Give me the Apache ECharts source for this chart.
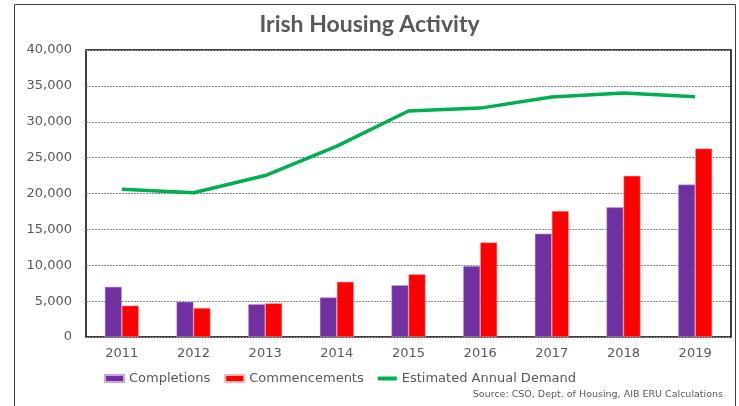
<!DOCTYPE html>
<html>
<head>
<meta charset="utf-8">
<script src="https://cdn.jsdelivr.net/npm/echarts@6/dist/echarts.min.js"></script>
<style>
  html, body { margin: 0; padding: 0; background: #fff; }
  #chart { width: 739px; height: 406px; }
</style>
</head>
<body>
<div id="chart"></div>
<script>
// values
const years = ['2011', '2012', '2013', '2014', '2015', '2016', '2017', '2018', '2019'];
const completions = [6994, 4911, 4575, 5518, 7219, 9886, 14407, 18072, 21241];
const commencements = [4365, 4042, 4708, 7691, 8734, 13186, 17572, 22467, 26267];
const demand = [20600, 20100, 22500, 26600, 31500, 31900, 33450, 34000, 33500];
const yTicks = [0, 5000, 10000, 15000, 20000, 25000, 30000, 35000, 40000];

const font = 'DejaVu Sans';
const grey = '#595959';

const myChart = echarts.init(document.getElementById('chart'));

const options = {
    animation: false,
    backgroundColor: '#fff',
    title: {
        text: 'Irish Housing Activity',
        left: 'center',
        top: 8,
        textStyle: { fontFamily: 'Lato', fontWeight: 'bold', fontSize: 23, color: grey }
    },
    graphic: [
        {
            type: 'rect',
            shape: { x: 14.5, y: 4.5, width: 721, height: 410 },
            style: { fill: 'none', stroke: '#404040', lineWidth: 1 },
            silent: true
        },
        {
            type: 'text',
            right: 16,
            top: 390,
            style: { text: 'Source: CSO, Dept. of Housing, AIB ERU Calculations', fontFamily: font, fontSize: 9.5, fill: grey }
        }
    ],
    grid: { left: 86, right: 8, top: 50, bottom: 69, show: true, borderColor: '#000', borderWidth: 1.5 },
    legend: {
        left: 99,
        top: 367,
        itemWidth: 19,
        itemHeight: 7,
        itemGap: 14,
        textStyle: { fontFamily: font, fontSize: 13, color: grey },
        data: [
            { name: 'Completions', icon: 'rect' },
            { name: 'Commencements', icon: 'rect' },
            { name: 'Estimated Annual Demand', icon: 'path://M0,0 L19,0 L19,4 L0,4 Z' }
        ]
    },
    xAxis: {
        type: 'category',
        data: years,
        axisLine: { show: false },
        axisTick: { show: false },
        axisLabel: { fontFamily: font, fontSize: 13, color: grey, margin: 10 }
    },
    yAxis: {
        type: 'value',
        min: yTicks[0],
        max: yTicks[yTicks.length - 1],
        interval: 5000,
        axisLine: { show: false },
        axisTick: { show: false },
        axisLabel: {
            fontFamily: font, fontSize: 13, color: grey, margin: 14,
            formatter: v => v.toLocaleString('en-US')
        },
        splitLine: { lineStyle: { color: '#8c8c8c', type: [2, 1], width: 1 } }
    },
    series: [
        {
            name: 'Completions',
            type: 'bar',
            data: completions,
            barWidth: 17,
            barGap: '0%',
            itemStyle: { color: '#7030A0', borderColor: '#c9a8df', borderWidth: 0.5 }
        },
        {
            name: 'Commencements',
            type: 'bar',
            data: commencements,
            barWidth: 17,
            itemStyle: { color: '#FF0000', borderColor: '#ffb3b3', borderWidth: 0.5 }
        },
        {
            name: 'Estimated Annual Demand',
            type: 'line',
            data: demand,
            symbol: 'none',
            lineStyle: { color: '#00B050', width: 3.5 },
            itemStyle: { color: '#00B050' }
        }
    ]
};

myChart.setOption(options);
</script>
</body>
</html>
